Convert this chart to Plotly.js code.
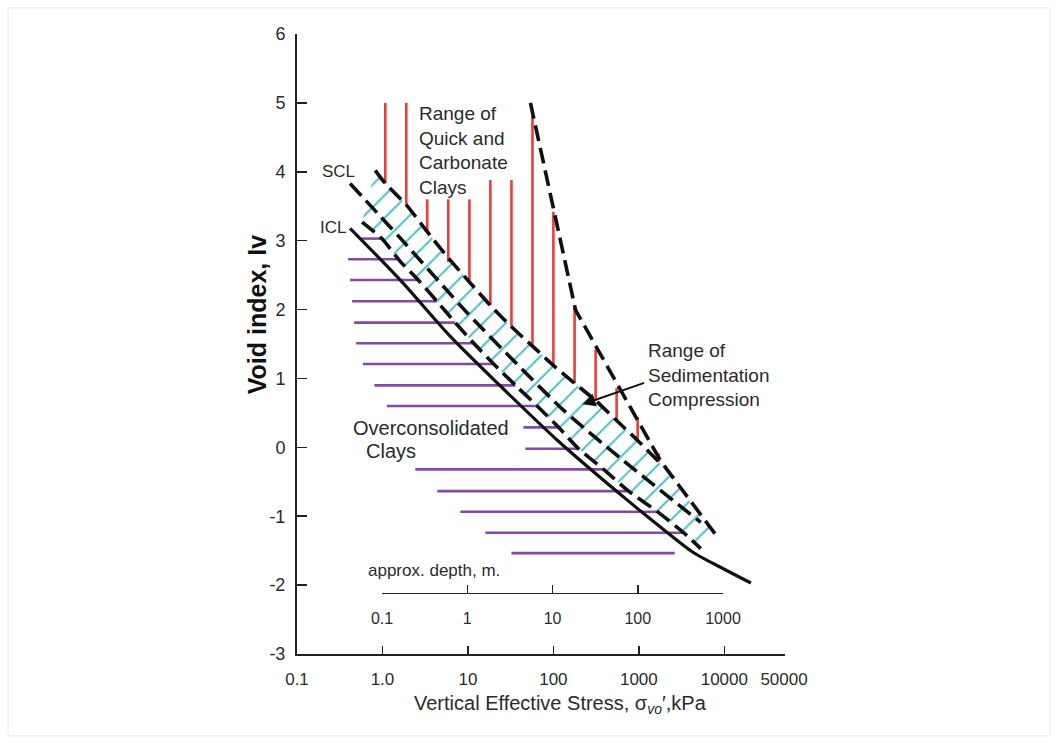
<!DOCTYPE html>
<html><head><meta charset="utf-8">
<script src="https://cdn.plot.ly/plotly-3.0.1.min.js"></script>
<style>html,body{margin:0;padding:0;background:#fff}#chart{width:1059px;height:744px}</style>
</head><body><div id="chart"></div>
<script>
// Intrinsic compression line (solid)
const iclStress = [0.418, 1.61, 6.22, 24.0, 112, 739, 1803, 4390, 10000, 20460];
const iclVoid   = [3.18, 2.43, 1.61, 0.89, 0.10, -0.77, -1.16, -1.53, -1.77, -1.97];
// Sedimentation compression line (middle dashed)
const sclStress = [0.418, 1.61, 9.84, 34.1, 131, 612, 5300];
const sclVoid   = [3.83, 3.04, 1.95, 1.26, 0.54, -0.16, -1.09];
// Upper boundary of sedimentation band
const bandUpperStress = [0.821, 1.08, 1.90, 3.34, 5.89, 10.4, 18.3, 32.3, 56.9, 100, 177, 312, 549, 968, 1706];
const bandUpperVoid   = [4.02, 3.83, 3.52, 3.13, 2.75, 2.40, 2.06, 1.75, 1.47, 1.19, 0.93, 0.68, 0.39, 0.10, -0.21];
// Lower boundary of sedimentation band
const bandLowerStress = [0.578, 0.984, 1.61, 2.62, 4.34, 7.11, 11.7, 20.0, 36.0, 64.6, 115, 197, 387, 759, 1648, 3350, 5300];
const bandLowerVoid   = [3.27, 3.03, 2.70, 2.43, 2.12, 1.81, 1.51, 1.21, 0.90, 0.60, 0.29, -0.02, -0.32, -0.635, -0.934, -1.24, -1.47];
// Upper limit of quick and carbonate clays
const quickStress = [53.9, 182, 1803, 8400];
const quickVoid   = [5.0, 1.99, -0.20, -1.31];
// Red vertical lines (quick / carbonate clays)
const redStress = [1.08, 1.90, 3.34, 5.89, 10.4, 18.3, 32.3, 56.9, 100, 177, 312, 549, 968, 1706];
const redTop    = [5.0, 5.0, 3.6, 3.6, 3.6, 3.88, 3.88, 4.82, 3.42, 2.04, 1.42, 0.86, 0.44, -0.09];
const redBottom = [3.83, 3.52, 3.13, 2.69, 2.40, 2.06, 1.75, 1.47, 1.19, 0.93, 0.68, 0.39, 0.10, -0.21];
// Purple horizontal lines (overconsolidated clays)
const purpleVoid = [3.03, 2.73, 2.43, 2.12, 1.81, 1.51, 1.21, 0.90, 0.60, 0.29, -0.02, -0.32, -0.635, -0.934, -1.24, -1.536];
const purpleFrom = [0.573, 0.396, 0.418, 0.442, 0.466, 0.492, 0.589, 0.805, 1.126, 44.6, 47.1, 2.42, 4.38, 8.15, 16.0, 32.3];
const purpleTo   = [0.984, 1.61, 2.62, 4.34, 7.11, 11.7, 20.0, 36.0, 64.6, 115, 197, 387, 759, 1648, 3350, 2630];
// Axis ticks
const stressTicks = [0.1, 1, 10, 100, 1000, 10000, 50000];
const stressTickText = ['0.1', '1.0', '10', '100', '1000', '10000', '50000'];
const depthTicks = [0.1, 1, 10, 100, 1000];
const depthTickText = ['0.1', '1', '10', '100', '1000'];
const voidTicks = [-3, -2, -1, 0, 1, 2, 3, 4, 5, 6];
const voidTickText = ['-3', '-2', '-1', '0', '1', '2', '3', '4', '5', '6'];

const FONT = 'Liberation Sans, Arial, sans-serif';
const TXT = '#2b2b2b';
const lg = Math.log10;

const redX = [], redY = [];
redStress.forEach((s, i) => { redX.push(s, s, null); redY.push(redTop[i], redBottom[i], null); });
const purX = [], purY = [];
purpleVoid.forEach((v, i) => { purX.push(purpleFrom[i], purpleTo[i], null); purY.push(v, v, null); });

const dashStyle = {color: '#111', width: 3.6, dash: '16px,7px', shape: 'spline', smoothing: 0.6};

const traces = [
  {x: bandLowerStress.concat([quickStress[quickStress.length - 1]], bandUpperStress.slice().reverse()),
   y: bandLowerVoid.concat([quickVoid[quickVoid.length - 1]], bandUpperVoid.slice().reverse()),
   mode: 'lines', fill: 'toself', line: {width: 0, color: 'rgba(0,0,0,0)'}, fillcolor: 'rgba(0,0,0,0)',
   fillpattern: {shape: '/', fgcolor: '#4fc0ce', bgcolor: 'rgba(255,255,255,0)', size: 16, solidity: 0.13},
   hoverinfo: 'skip', showlegend: false, name: 'Range of Sedimentation Compression'},
  {x: redX, y: redY, mode: 'lines', line: {color: '#f03a3a', width: 2.6}, showlegend: false, name: 'Quick and Carbonate Clays'},
  {x: purX, y: purY, mode: 'lines', line: {color: '#854aa5', width: 2.6}, showlegend: false, name: 'Overconsolidated Clays'},
  {x: bandUpperStress, y: bandUpperVoid, mode: 'lines', line: dashStyle, showlegend: false},
  {x: sclStress, y: sclVoid, mode: 'lines', line: dashStyle, showlegend: false, name: 'SCL'},
  {x: bandLowerStress, y: bandLowerVoid, mode: 'lines', line: dashStyle, showlegend: false},
  {x: quickStress, y: quickVoid, mode: 'lines', line: {color: '#111', width: 3.6, dash: '16px,7px'}, showlegend: false},
  {x: iclStress, y: iclVoid, mode: 'lines', line: {color: '#111', width: 3.2, shape: 'spline', smoothing: 0.8}, showlegend: false, name: 'ICL'},
  {x: [1], y: [null], xaxis: 'x2', yaxis: 'y', mode: 'markers', showlegend: false, hoverinfo: 'skip'}
];

const ann = (x, y, text, opts) => Object.assign({x: lg(x), y: y, xref: 'x', yref: 'y', text: text, showarrow: false,
  font: {family: FONT, size: 19, color: TXT}, xanchor: 'left', yanchor: 'middle', align: 'left'}, opts || {});

const layout = {
  width: 1059, height: 744,
  margin: {l: 297, r: 274, t: 34, b: 90},
  paper_bgcolor: '#fff', plot_bgcolor: 'rgba(0,0,0,0)',
  showlegend: false,
  xaxis: {type: 'log', range: [-1, 4.71], tickvals: stressTicks, ticktext: stressTickText,
    ticks: 'inside', ticklen: 8, tickwidth: 1.5, tickcolor: '#222', showline: true, linecolor: '#222', linewidth: 2,
    showgrid: false, zeroline: false, ticklabelstandoff: 9, tickfont: {family: FONT, size: 17, color: TXT}},
  xaxis2: {type: 'log', domain: [0.1742, 0.873], range: [-1, 3], anchor: 'free', position: 0.0984,
    tickvals: depthTicks, ticktext: depthTickText, ticks: 'inside', ticklen: 8, tickwidth: 1.5, tickcolor: '#222',
    showline: true, linecolor: '#222', linewidth: 1.5, showgrid: false, zeroline: false, ticklabelstandoff: 10,
    tickfont: {family: FONT, size: 16, color: TXT}},
  yaxis: {range: [-3, 6], tickvals: voidTicks, ticktext: voidTickText, ticks: 'inside', ticklen: 10, tickwidth: 1.5, tickcolor: '#222',
    showline: true, linecolor: '#222', linewidth: 2, showgrid: false, zeroline: false, ticklabelstandoff: 6,
    tickfont: {family: FONT, size: 18, color: TXT}},
  annotations: [
    ann(2.55, 4.31, 'Range of<br>Quick and<br>Carbonate<br>Clays'),
    ann(0.31, 4.01, 'SCL', {xanchor: 'center', font: {family: FONT, size: 17, color: TXT}}),
    ann(0.264, 3.196, 'ICL', {xanchor: 'center', font: {family: FONT, size: 17, color: TXT}}),
    ann(1202, 1.046, 'Range of<br>Sedimentation<br>Compression'),
    ann(3.72, 0.276, 'Overconsolidated', {xanchor: 'center', font: {family: FONT, size: 20, color: TXT}}),
    ann(1.26, -0.058, 'Clays', {xanchor: 'center', font: {family: FONT, size: 20, color: TXT}}),
    ann(0.644, -1.787, 'approx. depth, m.', {font: {family: FONT, size: 17, color: TXT}}),
    {x: lg(219), y: 0.624, ax: lg(1202), ay: 0.944, xref: 'x', yref: 'y', axref: 'x', ayref: 'y', text: '',
     showarrow: true, arrowhead: 2, arrowsize: 1.3, arrowwidth: 2, arrowcolor: '#111'},
    {x: -0.082, y: 0.548, xref: 'paper', yref: 'paper', text: '<b>Void index, Iv</b>', textangle: -90, showarrow: false,
     font: {family: FONT, size: 25, color: '#111'}, xanchor: 'center', yanchor: 'middle'},
    {x: 0.539, y: -0.082, xref: 'paper', yref: 'paper', showarrow: false,
     text: 'Vertical Effective Stress, σ<sub><i>vo</i></sub>′,kPa', font: {family: FONT, size: 20, color: TXT},
     xanchor: 'center', yanchor: 'middle'}
  ],
  shapes: [
    {type: 'rect', xref: 'paper', yref: 'paper', x0: -0.592, x1: 1.543, y0: -0.132, y1: 1.042,
     line: {color: '#e8e8e8', width: 1}, fillcolor: 'rgba(0,0,0,0)', layer: 'below'}
  ]
};

Plotly.newPlot('chart', traces, layout, {staticPlot: true, displayModeBar: false});
</script></body></html>
